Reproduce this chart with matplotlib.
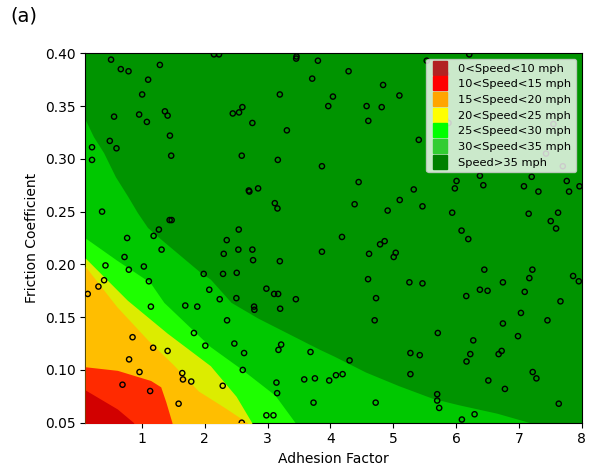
import numpy as np
import matplotlib
matplotlib.use("Agg")
import matplotlib.pyplot as plt
from matplotlib.lines import Line2D

# speed bands: label, colour in the map, colour in the legend
band_labels = ["0<Speed<10 mph", "10<Speed<15 mph", "15<Speed<20 mph", "20<Speed<25 mph",
               "25<Speed<30 mph", "30<Speed<35 mph", "Speed>35 mph"]
map_colors = ["#d20000", "#ff2a00", "#ffbe00", "#dcec00", "#1eff00", "#00c800", "#009400"]
legend_colors = ["firebrick", "red", "orange", "yellow", "lime", "limegreen", "green"]

# upper edge of each band, lowest band first
edge_0_10_x = [0.1, 0.61, 0.87]
edge_0_10_y = [0.081, 0.063, 0.05]
edge_10_15_x = [0.1, 0.61, 1.14, 1.30, 1.38, 1.48]
edge_10_15_y = [0.103, 0.0996, 0.090, 0.084, 0.070, 0.05]
edge_15_20_x = [0.1, 0.6, 1.1, 1.5, 1.9, 2.3, 2.68]
edge_15_20_y = [0.198, 0.160, 0.128, 0.105, 0.080, 0.065, 0.05]
edge_20_25_x = [0.1, 0.77, 1.40, 2.09, 2.50, 2.75]
edge_20_25_y = [0.206, 0.166, 0.135, 0.104, 0.075, 0.05]
edge_25_30_x = [0.1, 0.60, 1.13, 1.35, 2.09, 2.58, 3.12, 3.44]
edge_25_30_y = [0.225, 0.204, 0.183, 0.164, 0.122, 0.101, 0.076, 0.05]
edge_30_35_x = [0.1, 0.23, 0.39, 0.58, 0.77, 0.93, 1.09, 1.30, 1.62, 1.94, 2.09, 2.42,
                2.85, 3.38, 3.81, 4.06, 4.56, 5.09, 5.63, 6.04, 6.65, 7.18]
edge_30_35_y = [0.337, 0.321, 0.306, 0.283, 0.265, 0.249, 0.235, 0.224, 0.208, 0.192, 0.186, 0.164,
                0.149, 0.133, 0.120, 0.113, 0.098, 0.085, 0.073, 0.067, 0.059, 0.05]

# sampled points
adhesion = [0.51, 0.665, 0.788, 1.287, 1.10, 1.005, 1.367, 1.41, 0.957, 0.558, 1.08, 1.447, 0.49, 0.207,
            0.596, 0.207, 1.467, 2.148, 2.228, 3.461, 3.456, 3.802, 3.711, 3.196, 4.041, 3.967, 2.60,
            2.447, 2.547, 2.759, 3.308, 2.59, 3.164, 3.866, 5.534, 4.29, 4.839, 5.099, 4.577, 4.817,
            4.604, 5.407, 5.844, 5.88, 5.833, 6.211, 6.38, 7.204, 7.55, 7.432, 7.699, 0.367, 1.442,
            1.474, 1.271, 1.187, 0.766, 1.314, 0.724, 0.421, 0.793, 1.032, 1.984, 1.112, 2.073, 0.399,
            0.309, 0.139, 2.702, 2.711, 2.85, 3.116, 3.158, 2.542, 2.351, 2.536, 2.759, 2.303, 2.77,
            3.196, 3.866, 2.292, 2.51, 2.982, 3.105, 3.169, 2.239, 2.504, 3.451, 4.45, 6.008, 5.981,
            5.327, 5.104, 5.466, 4.386, 4.912, 5.939, 4.185, 4.864, 4.791, 5.04, 5.008, 4.616, 4.60,
            5.258, 5.466, 4.727, 6.434, 7.081, 7.311, 7.762, 7.799, 7.965, 7.156, 7.624, 7.507, 7.592,
            6.088, 6.195, 6.45, 7.215, 7.167, 7.863, 7.954, 6.746, 6.38, 6.502, 7.093, 6.163, 7.662,
            1.144, 1.691, 1.882, 1.829, 2.01, 0.852, 1.18, 1.41, 0.797, 0.963, 1.643, 1.654, 1.786,
            0.692, 1.132, 1.585, 2.786, 2.791, 3.201, 2.356, 2.472, 2.627, 3.217, 3.174, 3.684, 2.606,
            2.287, 3.142, 3.153, 3.584, 3.754, 3.982, 3.732, 2.982, 3.094, 2.59, 4.705, 5.71, 5.274,
            5.423, 4.306, 4.089, 4.195, 5.274, 4.721, 5.70, 5.70, 5.732, 7.033, 7.455, 6.746, 6.274,
            6.986, 6.726, 6.678, 6.227, 6.167, 7.22, 7.279, 6.514, 6.778, 7.635, 6.295, 6.093]
friction = [0.394, 0.385, 0.383, 0.389, 0.375, 0.361, 0.345, 0.341, 0.342, 0.340, 0.335, 0.322, 0.317,
            0.311, 0.310, 0.299, 0.303, 0.399, 0.399, 0.397, 0.395, 0.393, 0.376, 0.361, 0.359, 0.350,
            0.349, 0.343, 0.344, 0.334, 0.327, 0.303, 0.299, 0.293, 0.393, 0.383, 0.370, 0.360, 0.350,
            0.349, 0.336, 0.318, 0.380, 0.334, 0.337, 0.399, 0.284, 0.283, 0.333, 0.305, 0.293, 0.250,
            0.242, 0.242, 0.233, 0.227, 0.225, 0.214, 0.207, 0.199, 0.195, 0.198, 0.191, 0.184, 0.176,
            0.185, 0.179, 0.172, 0.270, 0.269, 0.272, 0.258, 0.253, 0.233, 0.223, 0.214, 0.214, 0.210,
            0.204, 0.203, 0.212, 0.191, 0.192, 0.177, 0.172, 0.172, 0.167, 0.168, 0.167, 0.278, 0.279,
            0.272, 0.271, 0.261, 0.255, 0.257, 0.251, 0.249, 0.226, 0.222, 0.219, 0.211, 0.207, 0.210,
            0.186, 0.183, 0.182, 0.168, 0.275, 0.274, 0.269, 0.279, 0.269, 0.274, 0.248, 0.249, 0.241,
            0.234, 0.232, 0.224, 0.195, 0.195, 0.187, 0.189, 0.184, 0.183, 0.176, 0.175, 0.174, 0.170,
            0.165, 0.160, 0.161, 0.160, 0.135, 0.123, 0.131, 0.121, 0.118, 0.110, 0.098, 0.097, 0.091,
            0.089, 0.086, 0.080, 0.068, 0.160, 0.157, 0.158, 0.147, 0.125, 0.116, 0.124, 0.119, 0.117,
            0.100, 0.085, 0.088, 0.078, 0.091, 0.092, 0.090, 0.069, 0.057, 0.057, 0.050, 0.147, 0.135,
            0.116, 0.114, 0.109, 0.095, 0.096, 0.096, 0.069, 0.077, 0.071, 0.064, 0.154, 0.147, 0.144,
            0.128, 0.132, 0.118, 0.115, 0.115, 0.108, 0.098, 0.092, 0.090, 0.082, 0.068, 0.058, 0.053]

fig = plt.figure(figsize=(5.94, 4.68), dpi=100)
ax = fig.add_axes([0.1436, 0.0968, 0.8357, 0.7893])

# top band fills the whole area, then each lower band is painted over it
ax.axvspan(0.0, 9.0, color=map_colors[6], zorder=0)
edges = [(edge_30_35_x, edge_30_35_y), (edge_25_30_x, edge_25_30_y), (edge_20_25_x, edge_20_25_y),
         (edge_15_20_x, edge_15_20_y), (edge_10_15_x, edge_10_15_y), (edge_0_10_x, edge_0_10_y)]
for i, (ex, ey) in enumerate(edges):
    ax.fill_between(ex, 0.0, ey, color=map_colors[5 - i], lw=0, zorder=1 + i)

ax.scatter(adhesion, friction, s=14, facecolors="none", edgecolors="black", linewidths=1.0, zorder=10)

ax.set_xlim(0.1, 8)
ax.set_ylim(0.05, 0.40)
ax.set_xticks(range(1, 9))
ax.set_yticks(np.arange(0.05, 0.401, 0.05))
ax.set_yticklabels([f"{v:.2f}" for v in np.arange(0.05, 0.401, 0.05)])
ax.set_xlabel("Adhesion Factor")
ax.set_ylabel("Friction Coefficient")

handles = [Line2D([], [], marker="s", ls="", color=c, markersize=10) for c in legend_colors]
ax.legend(handles, band_labels, loc="upper right", fontsize=8.2, handlelength=1.6).set_zorder(20)

fig.text(0.017, 0.955, "(a)", fontsize=14)
fig.savefig("out.png", dpi=100)
